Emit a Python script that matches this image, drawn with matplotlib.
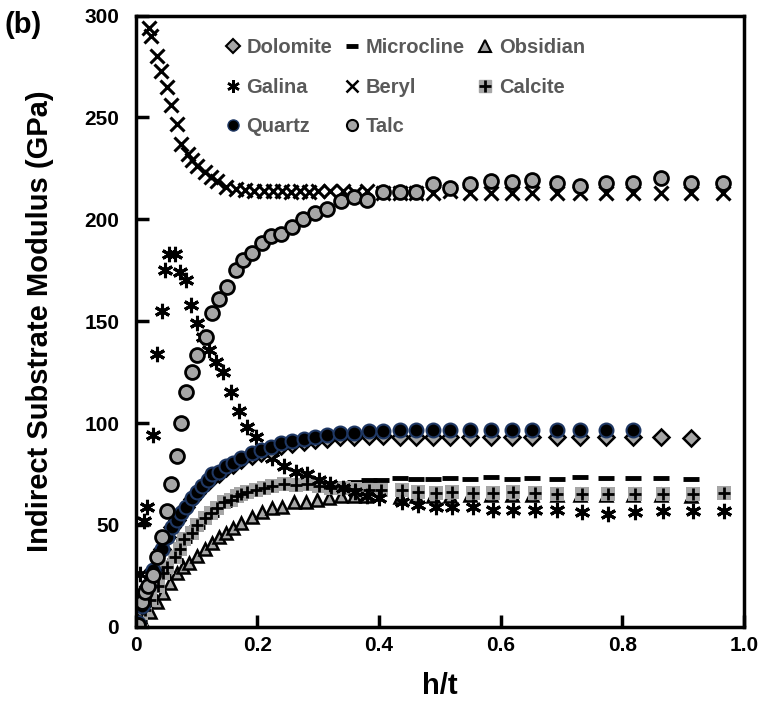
import matplotlib
matplotlib.use("Agg")
import matplotlib.pyplot as plt
from matplotlib.lines import Line2D

plt.rcParams['font.family'] = ['Liberation Sans', 'DejaVu Sans']
plt.rcParams['font.weight'] = 'bold'

GRAY = '#a6a6a6'
TEXT_GRAY = '#595959'

# tail grid shared by most series (h/t)
tail_x = [0.406, 0.434, 0.461, 0.489, 0.516, 0.549, 0.584, 0.618, 0.652,
          0.692, 0.731, 0.774, 0.818, 0.864, 0.913, 0.966]

talc_x = [0.003, 0.010, 0.015, 0.020, 0.028, 0.034, 0.043, 0.051, 0.057, 0.067,
          0.075, 0.083, 0.092, 0.101, 0.116, 0.126, 0.137, 0.150, 0.164, 0.177,
          0.191, 0.208, 0.222, 0.239, 0.257, 0.275, 0.294, 0.314, 0.337, 0.358,
          0.381] + tail_x
talc_y = [1, 12, 17, 20, 25.5, 34, 44, 57, 70, 84,
          100, 115, 125, 133.5, 142, 154, 161, 167, 175, 180,
          183.6, 188.5, 192, 193, 196, 200, 203, 205, 209, 211,
          209.6, 213.6, 213.6, 213.6, 217.5, 215.5, 217.5, 219, 218.5, 219.5,
          218, 216.5, 218, 218, 220.4, 218, 218]

beryl_x = [0.021, 0.025, 0.034, 0.041, 0.051, 0.057, 0.067, 0.075, 0.085, 0.092,
           0.101, 0.113, 0.124, 0.134, 0.149, 0.165, 0.180, 0.195, 0.210, 0.225,
           0.240, 0.255, 0.270, 0.285, 0.300, 0.320, 0.340, 0.360, 0.380] + tail_x
beryl_y = [294, 290, 280, 273, 265, 256, 247, 237, 232, 229,
           226, 223, 221, 219, 216, 215, 214.5, 214, 214, 214,
           214, 213.5, 214, 213.5, 214, 214, 214, 213, 214,
           213, 213, 213, 213, 214, 213, 213, 213, 213, 213,
           213, 213, 213, 213, 213, 213]

galina_x = [0.007, 0.014, 0.018, 0.028, 0.034, 0.043, 0.048, 0.054, 0.064, 0.072, 0.082,
            0.090, 0.100, 0.110, 0.121, 0.132, 0.144, 0.157, 0.169, 0.182, 0.198,
            0.224, 0.244, 0.263, 0.281, 0.301, 0.320, 0.340, 0.360, 0.380, 0.400,
            0.437, 0.464, 0.494, 0.520, 0.554, 0.587, 0.620, 0.656, 0.693, 0.734,
            0.777, 0.821, 0.867, 0.916, 0.968]
galina_y = [26, 52, 59, 94, 134, 155, 175, 183, 183, 174, 170,
            158, 149, 142, 136, 130, 125, 115, 106, 98, 93,
            83, 79, 76, 75, 72, 70, 68, 66, 64, 63,
            61, 60, 59, 59, 59, 57.5, 57.5, 57.5, 57.5, 56.5,
            55.5, 56.5, 57, 57, 57]

quartz_x = [0.003, 0.010, 0.020, 0.028, 0.043, 0.051, 0.059, 0.067, 0.075, 0.083,
            0.092, 0.100, 0.108, 0.118, 0.126, 0.137, 0.149, 0.159, 0.173, 0.191,
            0.206, 0.222, 0.239, 0.257, 0.276, 0.294, 0.314, 0.335, 0.358, 0.383] + tail_x[:13]
quartz_y = [2, 10, 20, 28, 38, 44, 49, 52.5, 56, 59,
            63, 66, 69, 72, 75, 76, 79, 80.5, 83, 85.5,
            87, 88, 90, 91, 92, 93, 94, 95, 95, 96,
            96, 96.5, 96.5, 96.5, 96.5, 96.5, 96.5, 96.5, 96.5, 96.5,
            96.5, 96.5, 96.5]

dolomite_x = quartz_x + tail_x[13:15]
dolomite_y = [2, 10, 20, 28, 38, 44, 49, 52.5, 56, 59,
              62.5, 65.5, 68.5, 71, 74, 75, 78, 79.5, 82, 84,
              85.5, 86.5, 88.5, 89.5, 90.5, 91.5, 92, 93, 93, 93.5,
              93.5, 93, 93, 93, 93, 93, 93, 93, 93, 93,
              93, 93, 93, 93, 92.5]

obsidian_x = [0.003, 0.011, 0.023, 0.034, 0.044, 0.056, 0.067, 0.077, 0.088, 0.100,
              0.113, 0.126, 0.137, 0.149, 0.159, 0.173, 0.191, 0.208, 0.224, 0.240,
              0.260, 0.280, 0.298, 0.317, 0.337, 0.358, 0.379] + tail_x[1:15]
obsidian_y = [0.5, 2, 7, 12, 16.7, 21.6, 26.5, 29.5, 31.5, 34.5,
              38, 41, 44, 46, 48.6, 51, 54, 56.5, 58.4, 59,
              61, 61.4, 62.3, 63.3, 64, 64, 64,
              63.5, 64, 64, 64, 64.5, 64.5, 64.5, 64.5, 64.5, 64.5,
              64.5, 64.5, 64.5, 64]

calcite_x = [0.008, 0.015, 0.023, 0.036, 0.044, 0.052, 0.064, 0.072, 0.080, 0.092,
             0.101, 0.113, 0.124, 0.134, 0.145, 0.157, 0.167, 0.173, 0.183, 0.198,
             0.211, 0.224, 0.244, 0.263, 0.281, 0.301, 0.321, 0.342, 0.361, 0.383,
             0.404, 0.437, 0.464, 0.494, 0.520, 0.554, 0.587, 0.620, 0.656, 0.693,
             0.734, 0.777, 0.821, 0.867, 0.916, 0.968]
calcite_y = [3, 8, 13, 20, 26.5, 29.5, 34, 38, 43, 46,
             50, 53.5, 56, 58.4, 61, 62, 64, 65, 66, 67,
             68, 69, 70, 69.5, 70, 69, 68, 68, 67.7, 67,
             67, 67, 66, 65.8, 66, 65.8, 65.8, 66, 65.8, 65,
             65, 65, 65, 65, 65, 65.8]

microcline_x = [0.023, 0.044, 0.064, 0.080, 0.101, 0.124, 0.145, 0.167, 0.183, 0.198,
                0.211, 0.224, 0.244, 0.263, 0.281, 0.301, 0.321, 0.342, 0.361, 0.383,
                0.404] + tail_x[1:15]
microcline_y = [12, 25, 33, 42, 49, 55, 60, 63.5, 65.5, 66,
                67, 68, 69, 69, 69.5, 69.5, 70, 70.5, 71, 72,
                72, 73, 72.7, 72.5, 73, 72.7, 73.3, 72.7, 73, 72.7,
                73.3, 73, 73, 73, 72.7]

fig = plt.figure(figsize=(7.59, 7.09), dpi=100)
ax = fig.add_axes([0.179, 0.116, 0.801, 0.862])

# draw order: lower layers first
ax.plot(obsidian_x, obsidian_y, ls='none', marker='^', ms=9, mfc=GRAY, mec='black', mew=1.8)
ax.plot(microcline_x, microcline_y, ls='none', marker='_', ms=11, mec='black', mew=3.5)
ax.plot(calcite_x, calcite_y, ls='none', marker='s', ms=10, mfc=GRAY, mec=GRAY, mew=0)
ax.plot(calcite_x, calcite_y, ls='none', marker='+', ms=9, mec='black', mew=2)
ax.plot(galina_x, galina_y, ls='none', marker=(6, 2, 0), ms=11, mec='black', mew=2.2)
ax.plot(dolomite_x, dolomite_y, ls='none', marker='D', ms=8.5, mfc=GRAY, mec='black', mew=1.8)
ax.plot(quartz_x, quartz_y, ls='none', marker='o', ms=10, mfc='black', mec='#1f3864', mew=1.5)
ax.plot(beryl_x, beryl_y, ls='none', marker='x', ms=10, mec='black', mew=2.2)
ax.plot(talc_x, talc_y, ls='none', marker='o', ms=10, mfc=GRAY, mec='black', mew=2)

ax.set_xlim(0, 0.995)
ax.set_ylim(0, 300)
ax.set_xticks([0, 0.2, 0.4, 0.6, 0.8, 1.0])
ax.set_xticklabels(['0', '0.2', '0.4', '0.6', '0.8', '1.0'])
ax.set_yticks([0, 50, 100, 150, 200, 250, 300])
ax.tick_params(direction='in', length=9, width=2.5, labelsize=15)
ax.tick_params(axis='y', pad=12)
ax.tick_params(axis='x', pad=7)
for s in ax.spines.values():
    s.set_linewidth(2.5)
for lab in ax.get_xticklabels() + ax.get_yticklabels():
    lab.set_fontweight('bold')

ax.set_xlabel('h/t', fontsize=21, fontweight='bold', labelpad=12)
ax.set_ylabel('Indirect Substrate Modulus (GPa)', fontsize=21, fontweight='bold', labelpad=22)
fig.text(0.006, 0.985, '(b)', fontsize=21, fontweight='bold', va='top')

# legend handles
h_dol = Line2D([], [], ls='none', marker='D', ms=7, mfc=GRAY, mec='black', mew=1.5)
h_gal = Line2D([], [], ls='none', marker=(6, 2, 0), ms=9, mec='black', mew=1.8)
h_qtz = Line2D([], [], ls='none', marker='o', ms=8, mfc='black', mec='#1f3864', mew=1)
h_mic = Line2D([], [], ls='none', marker='_', ms=9, mec='black', mew=3.5)
h_ber = Line2D([], [], ls='none', marker='x', ms=8, mec='black', mew=1.8)
h_tlc = Line2D([], [], ls='none', marker='o', ms=8, mfc=GRAY, mec='black', mew=1.5)
h_obs = Line2D([], [], ls='none', marker='^', ms=8, mfc=GRAY, mec='black', mew=1.5)
h_cal_s = Line2D([], [], ls='none', marker='s', ms=8, mfc=GRAY, mec=GRAY)
h_cal_p = Line2D([], [], ls='none', marker='+', ms=8, mec='black', mew=2)

handles = [h_dol, h_gal, h_qtz, h_mic, h_ber, h_tlc, h_obs, (h_cal_s, h_cal_p)]
labels = ['Dolomite', 'Galina', 'Quartz', 'Microcline', 'Beryl', 'Talc', 'Obsidian', 'Calcite']
leg = ax.legend(handles, labels, ncol=3, loc='upper left', bbox_to_anchor=(0.116, 0.993),
                frameon=False, fontsize=14.5, handlelength=0.8, handletextpad=0.28,
                columnspacing=0.6, labelspacing=1.03)
for t in leg.get_texts():
    t.set_color(TEXT_GRAY)
    t.set_fontweight('bold')

fig.savefig('out.png', dpi=100)
